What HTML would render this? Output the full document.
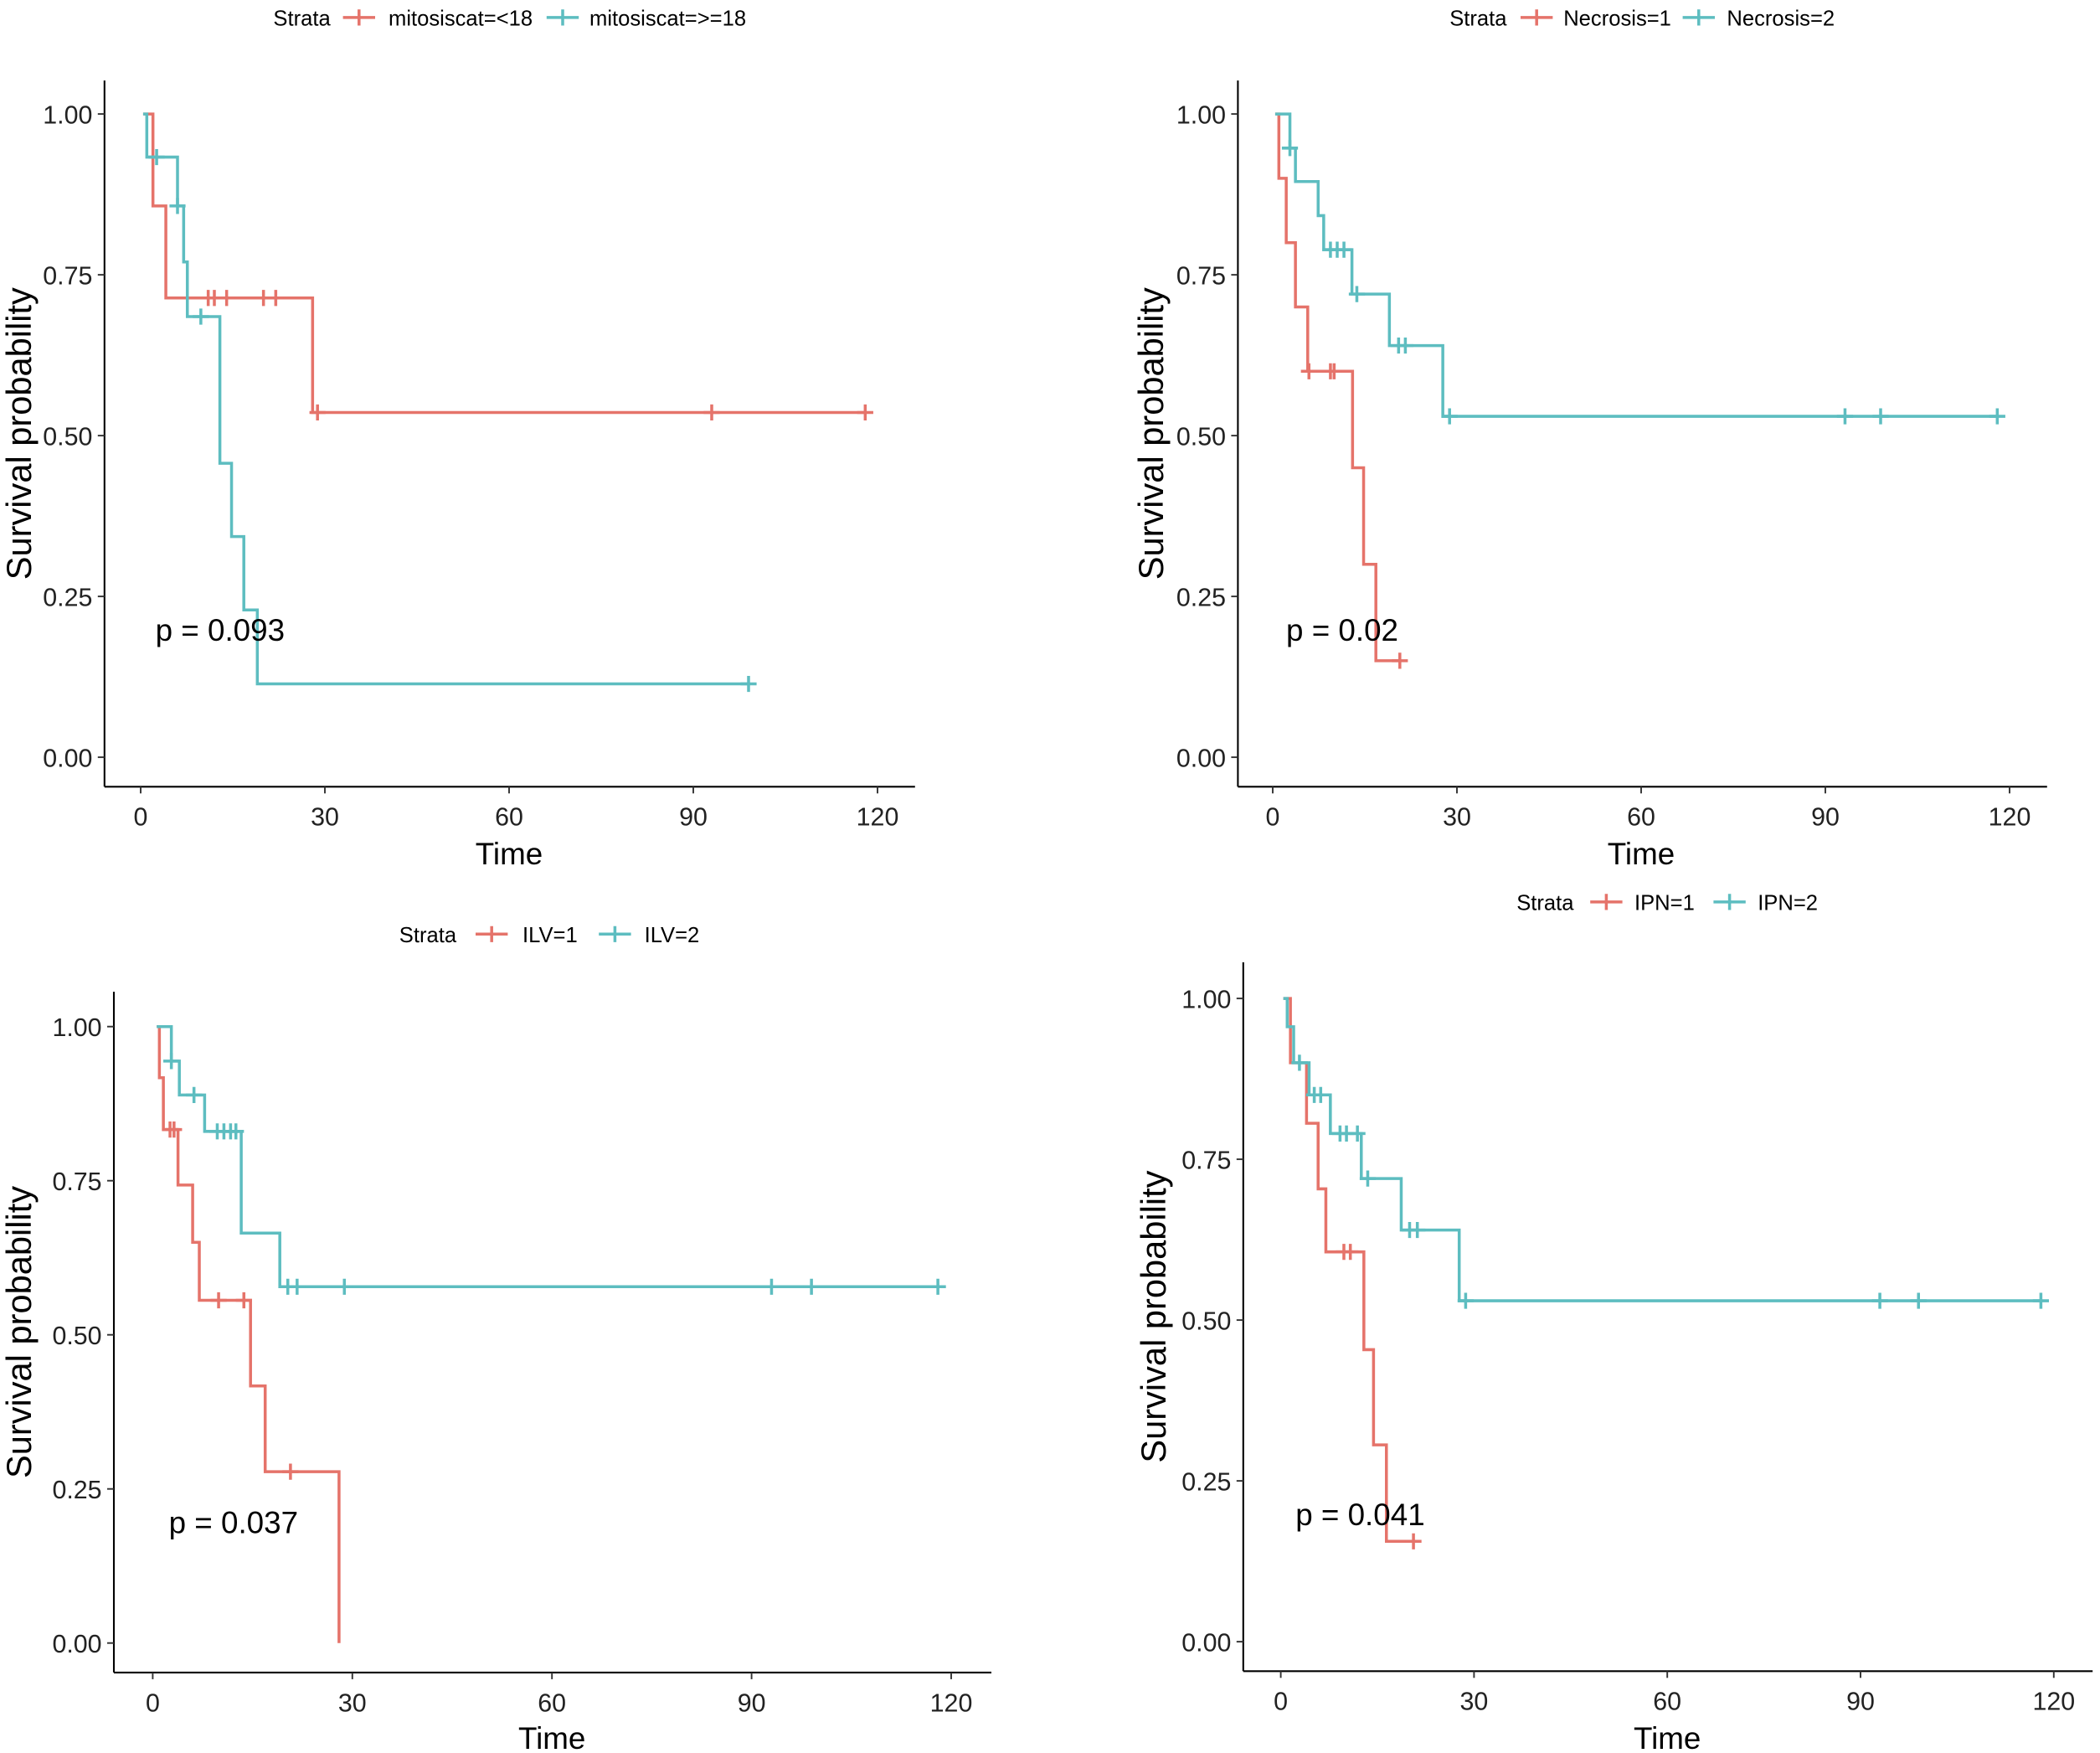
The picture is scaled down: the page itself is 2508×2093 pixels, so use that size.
<!DOCTYPE html>
<html><head><meta charset="utf-8"><style>
html,body{margin:0;padding:0;background:#fff;}
svg{display:block;font-family:"Liberation Sans",Arial,sans-serif;}
</style></head><body>
<svg id="chart" width="2508" height="2093" viewBox="0 0 1567.5 1308" xmlns="http://www.w3.org/2000/svg"></svg>
<script>
// ---- data ----
const xTicks = [0, 30, 60, 90, 120];
const yTicks = [0, 0.25, 0.5, 0.75, 1];
const yTickLabels = ["0.00", "0.25", "0.50", "0.75", "1.00"];

const p1Labels = ["mitosiscat=<18", "mitosiscat=>=18"];
const p1RedTimes = [0.4, 2, 4.1, 28];
const p1RedSurv = [1, 0.857, 0.714, 0.536];
const p1RedCens = [11, 12, 14, 20, 22, 28.8, 93, 118];
const p1TealTimes = [0.4, 1, 6, 7, 7.6, 12.9, 14.8, 16.8, 19];
const p1TealSurv = [1, 0.933, 0.857, 0.77, 0.685, 0.457, 0.343, 0.229, 0.114];
const p1TealCens = [2.6, 6, 9.8, 99];
const p1P = "p = 0.093";

const p2Labels = ["Necrosis=1", "Necrosis=2"];
const p2RedTimes = [0.4, 1, 2.2, 3.7, 5.7, 13, 14.8, 16.8];
const p2RedSurv = [1, 0.9, 0.8, 0.7, 0.6, 0.45, 0.3, 0.15];
const p2RedCens = [5.9, 9.4, 10, 20.7];
const p2TealTimes = [0.4, 2.8, 3.7, 7.4, 8.3, 12.9, 19, 27.7];
const p2TealSurv = [1, 0.947, 0.895, 0.842, 0.789, 0.72, 0.64, 0.53];
const p2TealCens = [2.8, 9.4, 10.5, 11.6, 13.7, 20.5, 21.6, 28.8, 93.2, 99, 118];
const p2P = "p = 0.02";

const p3Labels = ["ILV=1", "ILV=2"];
const p3RedTimes = [0.6, 1, 1.6, 3.8, 6, 7, 14.7, 16.9, 28];
const p3RedSurv = [1, 0.917, 0.833, 0.743, 0.65, 0.556, 0.417, 0.278, 0];
const p3RedCens = [2.6, 3.2, 9.9, 13.7, 20.7];
const p3TealTimes = [0.6, 2.8, 4, 7.8, 13.3, 19.1];
const p3TealSurv = [1, 0.944, 0.889, 0.83, 0.665, 0.578];
const p3TealCens = [2.8, 6.2, 9.7, 10.7, 11.7, 12.5, 20.3, 21.7, 28.8, 93, 99, 118];
const p3P = "p = 0.037";

const p4Labels = ["IPN=1", "IPN=2"];
const p4RedTimes = [0.4, 1.5, 4, 5.8, 7, 12.9, 14.4, 16.4];
const p4RedSurv = [1, 0.9, 0.806, 0.704, 0.606, 0.454, 0.306, 0.156];
const p4RedCens = [9.8, 10.8, 20.6];
const p4TealTimes = [0.4, 1, 2, 4.4, 7.7, 12.5, 18.7, 27.7];
const p4TealSurv = [1, 0.956, 0.9, 0.85, 0.79, 0.72, 0.64, 0.53];
const p4TealCens = [2.9, 5.2, 6.2, 9.2, 10.2, 11.9, 13.5, 20, 21.2, 28.7, 93, 99, 118];
const p4P = "p = 0.041";

// ---- layout ----
const RED = "#E5736A", TEAL = "#5DBDC0";
const NS = "http://www.w3.org/2000/svg";
const svg = document.getElementById("chart");
function mk(tag, attrs, parent) {
  const e = document.createElementNS(NS, tag);
  for (const k in attrs) e.setAttribute(k, attrs[k]);
  (parent || svg).appendChild(e);
  return e;
}
const panels = [
  {id:"mitosis", ax:78, x0:105, x120:655, y1:85, y0:565, axY:587, top:60, right:683, titleY:637, ylabX:15,
   labels:p1Labels, rt:p1RedTimes, rs:p1RedSurv, rc:p1RedCens, tt:p1TealTimes, ts:p1TealSurv, tc:p1TealCens, p:p1P, px:116, py:470,
   legY:13, leg:[204,256,290,408,440]},
  {id:"necrosis", ax:924, x0:950, x120:1500, y1:85, y0:565, axY:587, top:60, right:1528, titleY:637, ylabX:860,
   labels:p2Labels, rt:p2RedTimes, rs:p2RedSurv, rc:p2RedCens, tt:p2TealTimes, ts:p2TealSurv, tc:p2TealCens, p:p2P, px:960, py:470,
   legY:13, leg:[1082,1135,1167,1256,1289]},
  {id:"ilv", ax:85, x0:114, x120:710, y1:766, y0:1226, axY:1248, top:740, right:740, titleY:1297, ylabX:15,
   labels:p3Labels, rt:p3RedTimes, rs:p3RedSurv, rc:p3RedCens, tt:p3TealTimes, ts:p3TealSurv, tc:p3TealCens, p:p3P, px:126, py:1136,
   legY:697, leg:[298,355,390,447,481]},
  {id:"ipn", ax:928, x0:956, x120:1533, y1:745, y0:1225, axY:1247, top:718, right:1562, titleY:1297, ylabX:862,
   labels:p4Labels, rt:p4RedTimes, rs:p4RedSurv, rc:p4RedCens, tt:p4TealTimes, ts:p4TealSurv, tc:p4TealCens, p:p4P, px:967, py:1130,
   legY:673, leg:[1132,1187,1220,1279,1312]}
];

function survAt(times, surv, t) {
  let s = surv[0];
  for (let i = 0; i < times.length; i++) if (times[i] <= t) s = surv[i];
  return s;
}

panels.forEach(P => {
  const g = mk("g", {});
  
  
  const X = t => P.x0 + (P.x120 - P.x0) * t / 120;
  const Y = s => P.y0 - (P.y0 - P.y1) * s;

  const ya = mk("line", {x1:P.ax, y1:P.top, x2:P.ax, y2:P.axY, stroke:"#000", "stroke-width":1.3}, g);
  
  
  const xa = mk("line", {x1:P.ax, y1:P.axY, x2:P.right, y2:P.axY, stroke:"#000", "stroke-width":1.3}, g);
  
  

  yTicks.forEach((v, i) => {
    mk("line", {x1:P.ax-5, y1:Y(v), x2:P.ax, y2:Y(v), stroke:"#333", "stroke-width":1.2}, g);
    const t = mk("text", {x:P.ax-9, y:Y(v)+7, "text-anchor":"end", "font-size":19, fill:"#222"}, g);
    t.textContent = yTickLabels[i];
    
    
  });
  xTicks.forEach(v => {
    mk("line", {x1:X(v), y1:P.axY, x2:X(v), y2:P.axY+5, stroke:"#333", "stroke-width":1.2}, g);
    const t = mk("text", {x:X(v), y:P.axY+29, "text-anchor":"middle", "font-size":19, fill:"#222"}, g);
    t.textContent = String(v);
    
    
  });
  const xt = mk("text", {x:(P.x0+P.x120)/2, y:P.titleY+8, "text-anchor":"middle", "font-size":23, fill:"#000"}, g);
  xt.textContent = "Time";
  
  
  const cy = (P.top + P.axY) / 2;
  const yt = mk("text", {x:P.ylabX+8, y:cy, "text-anchor":"middle", "font-size":26, fill:"#000", transform:`rotate(-90 ${P.ylabX+8} ${cy})`}, g);
  yt.textContent = "Survival probability";
  
  

  [[P.rt, P.rs, P.rc, RED, "red"], [P.tt, P.ts, P.tc, TEAL, "teal"]].forEach(([tm, sv, cs, col, nm]) => {
    let d = `M${X(tm[0])},${Y(sv[0])}`;
    for (let i = 1; i < tm.length; i++) d += ` H${X(tm[i])} V${Y(sv[i])}`;
    const last = Math.max(tm[tm.length-1], cs.length ? Math.max(...cs) : 0);
    d += ` H${X(last)}`;
    const path = mk("path", {d, fill:"none", stroke:col, "stroke-width":2.2}, g);
    
    
    cs.forEach(c => {
      const x = X(c), y = Y(survAt(tm, sv, c));
      const m = mk("path", {d:`M${x-6},${y} H${x+6} M${x},${y-6} V${y+6}`, stroke:col, "stroke-width":2.2}, g);
      
      
    });
  });

  const pt = mk("text", {x:P.px, y:P.py+8, "font-size":23, fill:"#000"}, g);
  pt.textContent = P.p;
  
  

  const L = P.leg, ly = P.legY;
  const st = mk("text", {x:L[0], y:ly+6, "font-size":16, fill:"#000"}, g);
  st.textContent = "Strata";
  
  
  [[L[1], L[2], RED, P.labels[0]], [L[3], L[4], TEAL, P.labels[1]]].forEach(([kx, tx, col, lab]) => {
    const k = mk("path", {d:`M${kx},${ly} H${kx+24} M${kx+12},${ly-6} V${ly+6}`, stroke:col, "stroke-width":2.2}, g);
    
    
    const t = mk("text", {x:tx, y:ly+6, "font-size":16, fill:"#000"}, g);
    t.textContent = lab;
    
    
  });
});
</script>
</body></html>
